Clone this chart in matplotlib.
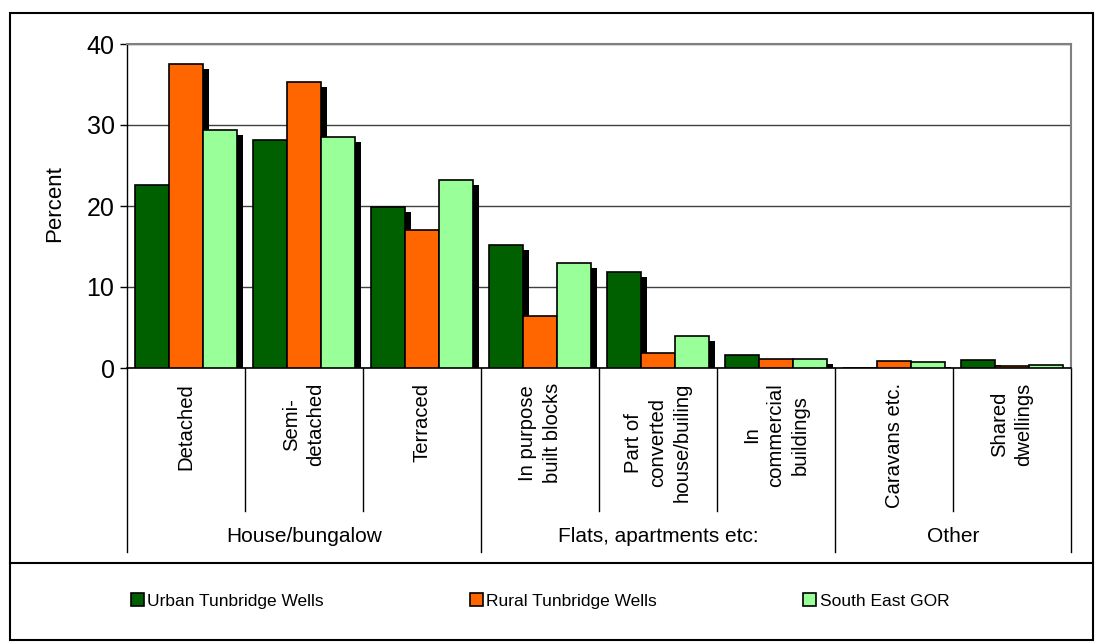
import numpy as np
import matplotlib
matplotlib.use("Agg")
import matplotlib.pyplot as plt
import matplotlib.patheffects as pe
from matplotlib.patches import Patch, Rectangle
from matplotlib.lines import Line2D
from matplotlib.transforms import blended_transform_factory

plt.rcParams["font.family"] = ["Liberation Sans", "DejaVu Sans"]

# Data
categories = ["Detached", "Semi-\ndetached", "Terraced", "In purpose\nbuilt blocks",
              "Part of\nconverted\nhouse/builing", "In\ncommercial\nbuildings",
              "Caravans etc.", "Shared\ndwellings"]
groups = ["House/bungalow", "Flats, apartments etc:", "Other"]
group_sizes = [3, 3, 2]
series_names = ["Urban Tunbridge Wells", "Rural Tunbridge Wells", "South East GOR"]
urban = [22.6, 28.1, 19.9, 15.2, 11.9, 1.6, 0.05, 0.95]
rural = [37.5, 35.3, 17.0, 6.4, 1.9, 1.1, 0.85, 0.2]
south_east = [29.4, 28.5, 23.2, 13.0, 3.9, 1.15, 0.75, 0.4]
colors = ["#006000", "#FF6600", "#99FF99"]

W, H = 1096, 643
fig = plt.figure(figsize=(W / 100, H / 100), dpi=100)
ax = fig.add_axes([127 / W, 1 - 368 / H, 944 / W, 324 / H])

x = np.arange(len(categories))
bw = 0.2857
shadow = [pe.SimplePatchShadow(offset=(4.3, -3.6), shadow_rgbFace="black", alpha=1.0), pe.Normal()]
for i, (vals, col) in enumerate(zip([urban, rural, south_east], colors)):
    ax.bar(x + (i - 1) * bw, vals, width=bw, color=col, edgecolor="black",
           linewidth=1.2, zorder=3 + i, path_effects=shadow)

ax.set_xlim(-0.5, len(categories) - 0.5)
ax.set_ylim(0, 40)
ax.set_yticks([0, 10, 20, 30, 40])
ax.tick_params(axis="y", labelsize=18, length=5, width=1, direction="out", pad=4)
ax.set_xticks([])
ax.yaxis.grid(True, color="#404040", linewidth=1)
ax.set_axisbelow(True)
for s in ["top", "right"]:
    ax.spines[s].set_color("#808080")
    ax.spines[s].set_linewidth(1.5)
ax.spines["left"].set_linewidth(1)
ax.spines["bottom"].set_linewidth(1.2)
fig.text(55 / W, 1 - 204 / H, "Percent", rotation=90, ha="center", va="center", fontsize=16)

# Category labels and divider lines beneath the axis
tr = blended_transform_factory(ax.transData, fig.transFigure)
def fy(py):
    return 1 - py / H

for xi, lab in zip(x, categories):
    ax.text(xi, fy(383), lab, transform=tr, rotation=90, ha="center", va="top",
            multialignment="center", fontsize=14.6, linespacing=1.35)

group_edges = np.concatenate([[0], np.cumsum(group_sizes)]) - 0.5
for b in np.arange(len(categories) + 1) - 0.5:
    bottom = 552 if b in group_edges else 511
    ax.add_line(Line2D([b, b], [fy(368), fy(bottom)], transform=tr, color="black",
                       linewidth=1, clip_on=False))
for g, a, b in zip(groups, group_edges[:-1], group_edges[1:]):
    ax.text((a + b) / 2, fy(537), g, transform=tr, ha="center", va="center", fontsize=15)

# Outer frame and legend box
fig.add_artist(Rectangle((10 / W, 1 - 640 / H), 1083 / W, 627 / H, transform=fig.transFigure,
                         fill=False, edgecolor="black", linewidth=1.5))
fig.add_artist(Line2D([10 / W, 1093 / W], [fy(563), fy(563)], transform=fig.transFigure,
                      color="black", linewidth=1.5))

handles = [Patch(facecolor=c, edgecolor="black", linewidth=1.2) for c in colors]
fig.legend(handles, series_names, loc="center left", bbox_to_anchor=(131 / W, fy(601)),
           ncol=3, frameon=False, fontsize=12.5, handlelength=0.75, handleheight=0.8,
           handletextpad=0.2, columnspacing=8.4, borderpad=0, borderaxespad=0)

fig.savefig("out.png", dpi=100)
